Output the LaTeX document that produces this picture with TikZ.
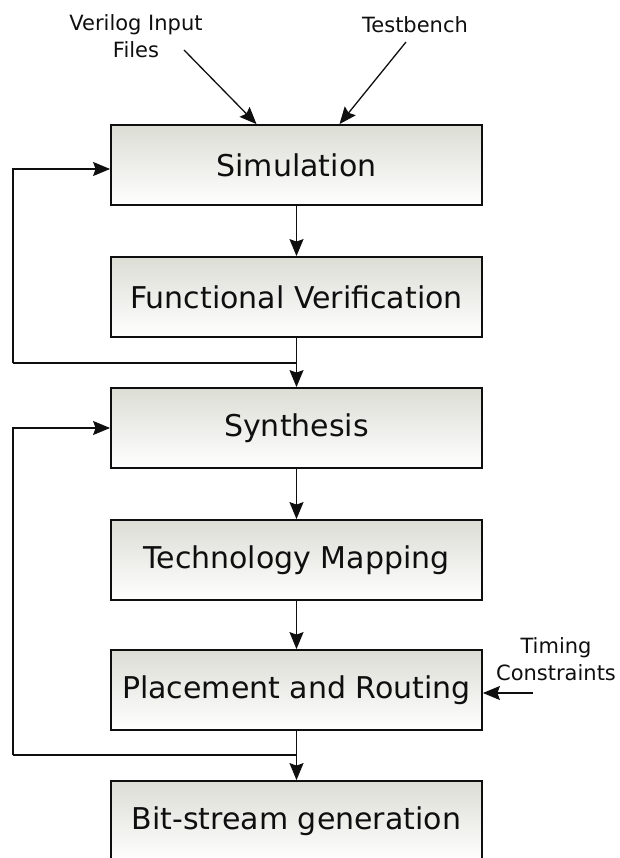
\documentclass[tikz,border=0pt]{standalone}
\usepackage{fontspec}
\setmainfont{DejaVu Sans}
\usetikzlibrary{arrows.meta}
\definecolor{boxtop}{RGB}{220,221,213}
\definecolor{ink}{RGB}{15,15,15}
\tikzset{
  stage/.style={draw=ink, line width=1.8pt, top color=boxtop, bottom color=white,
    minimum width=371pt, minimum height=80pt, inner sep=0pt,
    font=\fontsize{30}{34}\selectfont, text=ink},
  note/.style={font=\fontsize{21}{27}\selectfont, text=ink, align=center, inner sep=0pt},
  flow/.style={draw=ink, line width=1.3pt, -{Stealth[length=17pt,width=14pt,inset=2.5pt]}},
  wire/.style={draw=ink, line width=1.3pt}
}
\begin{document}
\begin{tikzpicture}[x=1pt,y=-1pt]
  \useasboundingbox (0,0) rectangle (620,858);

  % process stages
  \node[stage] (sim) at (296.5,165) {Simulation};
  \node[stage] (fv)  at (296.5,297) {Functional Verification};
  \node[stage] (syn) at (296.5,428) {Synthesis};
  \node[stage] (tm)  at (296.5,560) {Technology Mapping};
  \node[stage] (pr)  at (296.5,690) {Placement and Routing};
  \node[stage] (bs)  at (296.5,821) {Bit-stream generation};

  % inputs
  \node[note] (vin) at (136,36) {Verilog Input\\Files};
  \node[note] (tb)  at (415,25) {Testbench};
  \node[note] (tc)  at (556,659) {Timing\\Constraints};

  \coordinate (vinA) at (184,50);
  \coordinate (tbA)  at (406,42);
  \coordinate (tcA)  at (533,693);
  \draw[flow] (vinA) -- ([xshift=-40pt]sim.north);
  \draw[flow] (tbA) -- ([xshift=43pt]sim.north);
  \draw[flow] (tcA) -- (tcA -| pr.east);

  % main flow
  \draw[flow] (sim) -- (fv);
  \draw[flow] (fv) -- (syn);
  \draw[flow] (syn) -- (tm);
  \draw[flow] (tm) -- (pr);
  \draw[flow] (pr) -- (bs);

  % feedback loops
  \coordinate (j1) at (296.5,363);
  \coordinate (l1) at (13,363);
  \draw[wire] (j1) -- (l1);
  \draw[flow] (l1) |- ([yshift=-4pt]sim.west);

  \coordinate (j2) at (296.5,755);
  \coordinate (l2) at (13,755);
  \draw[wire] (j2) -- (l2);
  \draw[flow] (l2) |- (syn.west);
\end{tikzpicture}
\end{document}
